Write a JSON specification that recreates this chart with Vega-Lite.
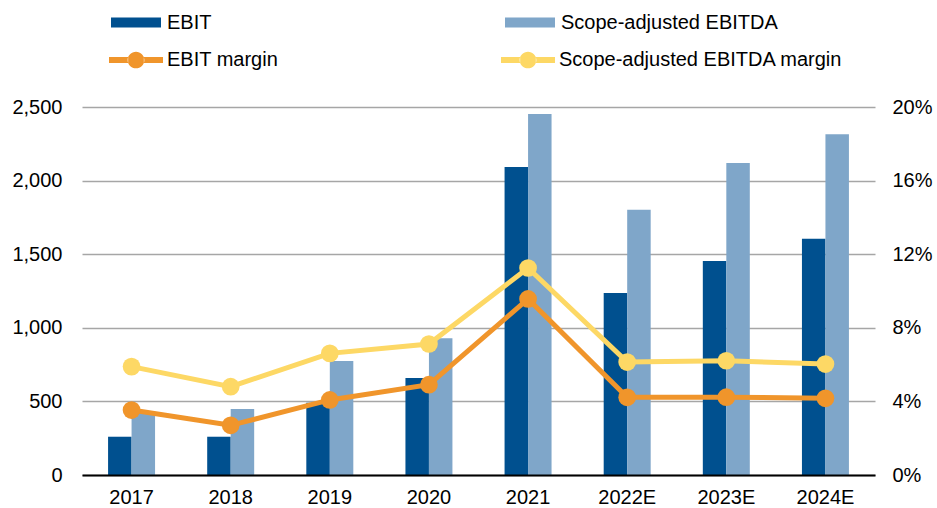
{
  "$schema": "https://vega.github.io/schema/vega-lite/v6.json",
  "width": 793,
  "height": 368,
  "autosize": "none",
  "padding": {"left": 82, "top": 107, "right": 62, "bottom": 33},
  "background": "white",
  "config": {
    "font": "Liberation Sans",
    "view": {"stroke": null},
    "axis": {"labelFont": "Liberation Sans", "labelFontSize": 20, "labelColor": "black", "ticks": false, "title": null},
    "legend": {"labelFont": "Liberation Sans", "labelFontSize": 20, "labelColor": "black", "padding": 0, "title": null, "labelLimit": 500}
  },
  "datasets": {
    "bars": [
      {"year": "2017", "series": "EBIT", "value": 260},
      {"year": "2017", "series": "Scope-adjusted EBITDA", "value": 430},
      {"year": "2018", "series": "EBIT", "value": 260},
      {"year": "2018", "series": "Scope-adjusted EBITDA", "value": 448},
      {"year": "2019", "series": "EBIT", "value": 490},
      {"year": "2019", "series": "Scope-adjusted EBITDA", "value": 774},
      {"year": "2020", "series": "EBIT", "value": 659},
      {"year": "2020", "series": "Scope-adjusted EBITDA", "value": 929},
      {"year": "2021", "series": "EBIT", "value": 2092},
      {"year": "2021", "series": "Scope-adjusted EBITDA", "value": 2452},
      {"year": "2022E", "series": "EBIT", "value": 1236},
      {"year": "2022E", "series": "Scope-adjusted EBITDA", "value": 1802},
      {"year": "2023E", "series": "EBIT", "value": 1454},
      {"year": "2023E", "series": "Scope-adjusted EBITDA", "value": 2120},
      {"year": "2024E", "series": "EBIT", "value": 1605},
      {"year": "2024E", "series": "Scope-adjusted EBITDA", "value": 2315}
    ],
    "margins": [
      {"year": "2017", "series": "EBIT margin", "value": 0.0353},
      {"year": "2018", "series": "EBIT margin", "value": 0.0270},
      {"year": "2019", "series": "EBIT margin", "value": 0.0408},
      {"year": "2020", "series": "EBIT margin", "value": 0.0491},
      {"year": "2021", "series": "EBIT margin", "value": 0.0957},
      {"year": "2022E", "series": "EBIT margin", "value": 0.0422},
      {"year": "2023E", "series": "EBIT margin", "value": 0.0423},
      {"year": "2024E", "series": "EBIT margin", "value": 0.0417},
      {"year": "2017", "series": "Scope-adjusted EBITDA margin", "value": 0.0589},
      {"year": "2018", "series": "Scope-adjusted EBITDA margin", "value": 0.0480},
      {"year": "2019", "series": "Scope-adjusted EBITDA margin", "value": 0.0661},
      {"year": "2020", "series": "Scope-adjusted EBITDA margin", "value": 0.0712},
      {"year": "2021", "series": "Scope-adjusted EBITDA margin", "value": 0.1125},
      {"year": "2022E", "series": "Scope-adjusted EBITDA margin", "value": 0.0614},
      {"year": "2023E", "series": "Scope-adjusted EBITDA margin", "value": 0.0621},
      {"year": "2024E", "series": "Scope-adjusted EBITDA margin", "value": 0.0603}
    ]
  },
  "layer": [
    {
      "data": {"name": "bars"},
      "mark": {"type": "bar"},
      "encoding": {
        "x": {
          "field": "year", "type": "nominal", "sort": null,
          "scale": {"paddingInner": 0.526, "paddingOuter": 0.263},
          "axis": {"labelAngle": 0, "domainColor": "black", "domainWidth": 2, "labelPadding": 12, "zindex": 1, "title": null}
        },
        "xOffset": {"field": "series", "type": "nominal", "sort": ["EBIT", "Scope-adjusted EBITDA"]},
        "y": {
          "field": "value", "type": "quantitative",
          "scale": {"domain": [0, 2500]},
          "axis": {"values": [0, 500, 1000, 1500, 2000, 2500], "format": ",.0f", "domain": false, "gridColor": "#a6a6a6", "gridWidth": 1.5, "labelPadding": 20, "title": null}
        },
        "color": {
          "field": "series", "type": "nominal",
          "scale": {"domain": ["EBIT", "Scope-adjusted EBITDA"], "range": ["#00508f", "#7fa6c9"]},
          "legend": {
            "orient": "none", "legendX": 29, "legendY": -109.5,
            "direction": "horizontal", "columns": 2, "columnPadding": 293,
            "symbolType": "M-1,-0.2H1V0.2H-1Z", "symbolSize": 2500, "symbolStrokeWidth": 0,
            "labelOffset": 6, "labelLimit": 500, "title": null
          }
        }
      }
    },
    {
      "data": {"name": "margins"},
      "mark": {"type": "line", "strokeWidth": 5, "point": {"filled": true, "size": 314, "opacity": 1}},
      "encoding": {
        "x": {"field": "year", "type": "nominal", "sort": null},
        "y": {
          "field": "value", "type": "quantitative",
          "scale": {"domain": [0, 0.2]},
          "axis": {"orient": "right", "values": [0, 0.04, 0.08, 0.12, 0.16, 0.2], "format": ".0%", "grid": false, "domain": false, "labelPadding": 17, "title": null}
        },
        "color": {
          "field": "series", "type": "nominal",
          "scale": {"domain": ["EBIT margin", "Scope-adjusted EBITDA margin"], "range": ["#f0952b", "#fdd865"]},
          "legend": {
            "orient": "none", "legendX": 27, "legendY": -74,
            "direction": "horizontal", "columns": 2, "columnPadding": 222,
            "symbolType": "M-1,-0.11H-0.29V0.11H-1Z M0.29,-0.11H1V0.11H0.29Z M-0.31,0A0.31,0.31 0 1,0 0.31,0A0.31,0.31 0 1,0 -0.31,0Z",
            "symbolSize": 2916, "symbolStrokeWidth": 0,
            "labelOffset": 4, "labelLimit": 500, "title": null,
            "encode": {"symbols": {"update": {"fill": {"signal": "datum.value === 'EBIT margin' ? '#f0952b' : '#fdd865'"}, "opacity": {"value": 1}, "fillOpacity": {"value": 1}}}}
          }
        }
      }
    }
  ],
  "resolve": {"scale": {"y": "independent", "color": "independent"}}
}
